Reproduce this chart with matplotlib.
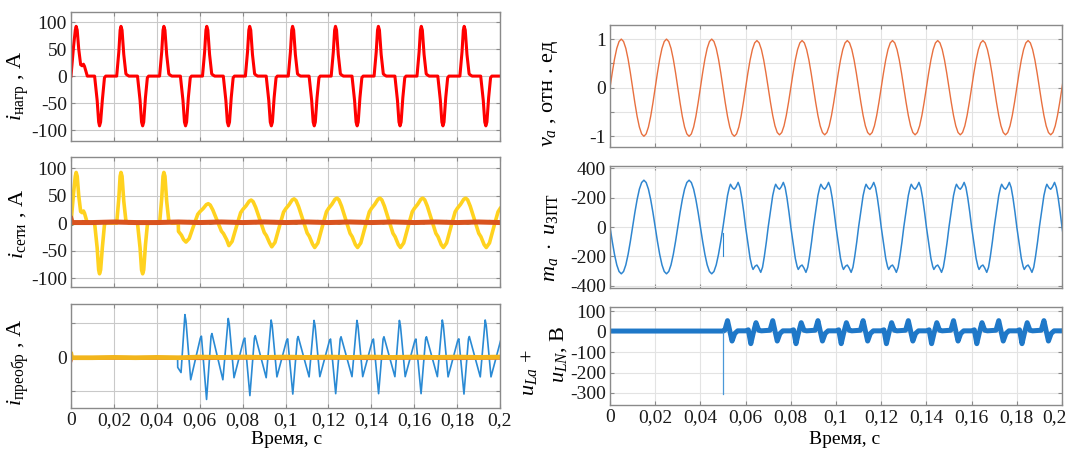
import numpy as np
import matplotlib
matplotlib.use('Agg')
import matplotlib.pyplot as plt
from matplotlib.transforms import ScaledTranslation

plt.rcParams['font.family'] = 'serif'
plt.rcParams['font.serif'] = ['Liberation Serif', 'DejaVu Serif']
plt.rcParams['mathtext.fontset'] = 'custom'
plt.rcParams['mathtext.rm'] = 'Liberation Serif'
plt.rcParams['mathtext.it'] = 'Liberation Serif:italic'
plt.rcParams['mathtext.bf'] = 'Liberation Serif:bold'

# ---------------- axis ticks ----------------
time_ticks = [0, 0.02, 0.04, 0.06, 0.08, 0.1, 0.12, 0.14, 0.16, 0.18, 0.2]
time_labels = ['0', '0,02', '0,04', '0,06', '0,08', '0,1', '0,12', '0,14', '0,16', '0,18', '0,2']

# ---------------- load current i_load (A) ----------------
load_first_ms = [0.0, 1.2, 2.0, 2.4, 2.9, 3.6, 4.5, 5.2, 5.8, 6.3, 7.6, 11.0, 12.2, 12.9, 13.3, 13.8, 14.6, 15.6, 16.2]
load_first_A = [0, 55, 85, 92, 85, 50, 21, 19, 22, 18, 0, 0, -45, -85, -92, -85, -45, -3, 0]
load_period_ms = [0.0, 1.3, 2.3, 2.9, 3.3, 3.8, 4.6, 5.6, 6.2, 7.0, 11.0, 12.2, 12.9, 13.4, 13.9, 14.7, 15.6, 16.2]
load_period_A = [0, 0, 45, 85, 92, 85, 40, 4, 2, 0, 0, -45, -85, -92, -85, -40, -3, 0]
load_starts = [0.02, 0.04, 0.06, 0.08, 0.10, 0.12, 0.14, 0.16, 0.18, 0.20]

# ---------------- grid current (yellow) after compensation starts ----------------
grid_lead_ms = [50.0, 50.1, 51.5, 52.5]
grid_lead_A = [0, -15, -22, -30]
grid_period_ms = [0.0, 1.5, 4.0, 5.5, 6.5, 8.0, 9.5, 10.4, 11.3, 12.5, 15.0, 16.5, 17.5, 19.0]
grid_period_A = [-43, -35, 0, 20, 26, 33, 42, 44, 41, 30, 0, -18, -24, -38]
grid_starts = [0.0536, 0.0736, 0.0936, 0.1136, 0.1336, 0.1536, 0.1736, 0.1936]
grid_gains = [0.8, 0.95, 1.0, 1.03, 1.03, 1.03, 1.03, 1.03]
grid_green_ms = [0, 5, 10, 15, 20, 25, 30, 35, 40, 45, 50, 55, 60, 65, 70, 75, 80, 85, 90, 95, 100,
                 105, 110, 115, 120, 125, 130, 135, 140, 145, 150, 155, 160, 165, 170, 175, 180, 185, 190, 195, 200]
grid_green_A = [-4, 4, 3, -1, 2, 4, 3, 0, 3, 4, 2, 4, 3, -1, 2, 4, 3, -1, 2, 4, 3,
                -1, 2, 4, 3, -1, 2, 4, 3, -1, 2, 4, 3, -1, 2, 4, 3, -1, 2, 4, 3]
grid_red_ms = [0, 0.5, 10, 20, 30, 40, 50, 60, 70, 80, 90, 100, 110, 120, 130, 140, 150, 160, 170, 180, 190, 200]
grid_red_A = [8, 1, 1, 2, 1, 1, 2, 1, 2, 1, 2, 1, 2, 1, 2, 1, 2, 1, 2, 1, 2, 1]

# ---------------- converter current ----------------
conv_pre_ms = [0.0, 49.7]
conv_pre_A = [-4, -4]
conv_lead_ms = [49.7, 49.75, 51.3]
conv_lead_A = [-4, -30, -45]
conv_period_ms = [0.0, 0.5, 2.7, 7.2, 7.7, 10.1, 12.2, 12.6, 17.7]
conv_period_A = [112, 95, -60, 50, 55, -112, 55, 62, -60]
conv_starts = [0.0531, 0.0733, 0.0933, 0.1133, 0.1333, 0.1531, 0.1731, 0.1931]
conv_gains = [1.1, 1.0, 0.96, 0.95, 0.95, 0.95, 0.96, 0.96]
conv_yellow_ms = [0, 0.3, 10, 20, 30, 40, 50, 60, 70, 80, 90, 100, 110, 120, 130, 140, 150, 160, 170, 180, 190, 200]
conv_yellow_A = [8, -2, -2, -1, -2, -1, -2, 0, -1, 0, -1, 0, -1, 0, -1, 0, -1, 0, -1, 0, -1, 0]
conv_red_ms = [0, 0.3, 20, 40, 60, 80, 100, 120, 140, 160, 180, 200]
conv_red_A = [-10, -3, -3, -3, -4, -3, -4, -3, -4, -3, -4, -3]

# ---------------- modulating signal v_a (p.u.) ----------------
va_cycle_ms = [0, 1, 2, 3, 4, 5, 6, 7, 8, 9, 10, 11, 12, 13, 14, 15, 16, 17, 18, 19]
va_cycle = [0, 0.31, 0.59, 0.81, 0.95, 1.0, 0.95, 0.81, 0.59, 0.31,
            0, -0.31, -0.59, -0.81, -0.95, -1.0, -0.95, -0.81, -0.59, -0.31]
va_starts = [0, 0.02, 0.04, 0.06, 0.08, 0.10, 0.12, 0.14, 0.16, 0.18, 0.20]
va_gains = [1.0, 1.0, 1.0, 0.97, 0.97, 0.97, 0.97, 0.97, 0.97, 0.97, 0.97]

# ---------------- m_a * u_dc (V) ----------------
mu_sine_ms = [0, 1, 2, 3, 4, 5, 6, 7, 8, 9, 10, 11, 12, 13, 14, 15, 16, 17, 18, 19]
mu_sine_V = [0, -99, -188, -259, -304, -320, -304, -259, -188, -99,
             0, 99, 188, 259, 304, 320, 304, 259, 188, 99]
mu_sine_starts = [0, 0.02, 0.04]
mu_flat_ms = [0.0, 1.0, 2.0, 2.8, 3.3, 4.2, 5.0, 5.8, 6.7, 7.5, 8.3, 9.2,
              10.0, 11.0, 12.0, 12.8, 13.3, 14.2, 15.0, 15.8, 16.7, 17.5, 18.3, 19.2]
mu_flat_V = [0, -110, -215, -270, -290, -268, -260, -280, -310, -275, -200, -100,
             0, 110, 215, 270, 292, 268, 258, 275, 305, 270, 200, 100]
mu_flat_starts = [0.04, 0.06, 0.08, 0.10, 0.12, 0.14, 0.16, 0.18, 0.20]
mu_spike_ms = [50.0, 50.0]
mu_spike_V = [-40, -200]

# ---------------- u_La + u_LN (V) ----------------
ul_pre_ms = [0.0, 50.2]
ul_pre_V = [4, 4]
ul_period_ms = [0.0, 1.2, 2.3, 3.4, 4.6, 5.8, 7.0, 10.8, 12.0, 13.0, 14.0, 15.2, 16.5]
ul_period_V = [5, 10, -58, -5, 45, 8, 5, 8, 55, 5, -45, -8, 5]
ul_starts = [0.04, 0.06, 0.08, 0.10, 0.12, 0.14, 0.16, 0.18, 0.20]
ul_spike_ms = [50.0, 50.0]
ul_spike_V = [0, -305]


def tile(shape_ms, shape_v, starts, gains=None):
    ts, vs = [], []
    for i, s in enumerate(starts):
        g = 1.0 if gains is None else gains[i]
        ts.append(s + np.asarray(shape_ms) / 1000.0)
        vs.append(g * np.asarray(shape_v, dtype=float))
    return np.concatenate(ts), np.concatenate(vs)


def ms(a):
    return np.asarray(a) / 1000.0


# build series
lt, lv = tile(load_period_ms, load_period_A, load_starts)
load_t = np.concatenate([ms(load_first_ms), lt])
load_v = np.concatenate([load_first_A, lv])

pre = load_t < 0.0499
gt, gv = tile(grid_period_ms, grid_period_A, grid_starts, grid_gains)
grid_t = np.concatenate([load_t[pre], ms(grid_lead_ms), gt])
grid_v = np.concatenate([load_v[pre], grid_lead_A, gv])

ct, cv = tile(conv_period_ms, conv_period_A, conv_starts, conv_gains)
conv_t = np.concatenate([ms(conv_lead_ms), ct])
conv_v = np.concatenate([conv_lead_A, cv])

va_t, va_v = tile(va_cycle_ms, va_cycle, va_starts, va_gains)

st, sv = tile(mu_sine_ms, mu_sine_V, mu_sine_starts)
keep = st < 0.05
ft, fv = tile(mu_flat_ms, mu_flat_V, mu_flat_starts)
keep2 = ft >= 0.05
mu_t = np.concatenate([st[keep], ft[keep2]])
mu_v = np.concatenate([sv[keep], fv[keep2]])

ut, uv = tile(ul_period_ms, ul_period_V, ul_starts)
keep3 = ut > 0.0502
ul_t = np.concatenate([ms(ul_pre_ms), ut[keep3]])
ul_v = np.concatenate([ul_pre_V, uv[keep3]])

# ---------------- figure ----------------
W, H = 1068, 455
fig = plt.figure(figsize=(W / 100, H / 100), dpi=100)


def add_ax(x0, y0, x1, y1):
    return fig.add_axes([x0 / W, 1 - y1 / H, (x1 - x0) / W, (y1 - y0) / H])


axL1 = add_ax(71, 12, 500, 141)
axL2 = add_ax(71, 157, 500, 287)
axL3 = add_ax(71, 304, 500, 408)
axR1 = add_ax(610, 25, 1062, 147)
axR2 = add_ax(610, 166, 1062, 288)
axR3 = add_ax(610, 307, 1062, 405)

TFS = 14


def style(ax, gridcol):
    for s in ax.spines.values():
        s.set_color('#8a8a8a')
        s.set_linewidth(1.0)
    ax.tick_params(direction='in', length=3, top=True, right=True, labelsize=TFS,
                   color='#8a8a8a', labelcolor='#1a1a1a', pad=3)
    ax.grid(True, color=gridcol, lw=0.8)
    ax.set_axisbelow(True)
    ax.set_xlim(0, 0.2)
    ax.set_xticks(time_ticks)
    ax.set_xticklabels(time_labels)


for ax in (axL1, axL2, axL3):
    style(ax, '#c9c9c9')
for ax in (axR1, axR2, axR3):
    style(ax, '#e3e3e3')
for ax in (axL1, axL2, axR1, axR2):
    ax.tick_params(labelbottom=False)

# top-left
axL1.plot(load_t, load_v, color='#ff0000', lw=2.2)
axL1.set_ylim(-120, 118.5)
axL1.set_yticks([-100, -50, 0, 50, 100])
axL1.set_yticklabels(['-100', '-50', '0', '50', '100'])

# middle-left
axL2.plot(grid_t, grid_v, color='#ffd21f', lw=2.6)
axL2.plot(ms(grid_green_ms), grid_green_A, color='#2f8f2f', lw=1.4, ls=(0, (4, 2)))
axL2.plot(ms(grid_red_ms), grid_red_A, color='#d9531e', lw=3.6)
axL2.set_ylim(-116, 120)
axL2.set_yticks([-100, -50, 0, 50, 100])
axL2.set_yticklabels(['-100', '-50', '0', '50', '100'])

# bottom-left
axL3.plot(ms(conv_pre_ms), conv_pre_A, color='#2a8ad4', lw=1.3, ls=(0, (5, 3)))
axL3.plot(conv_t, conv_v, color='#2a8ad4', lw=1.2)
axL3.plot(ms(conv_red_ms), conv_red_A, color='#e0602a', lw=2.4)
axL3.plot(ms(conv_yellow_ms), conv_yellow_A, color='#f2b51c', lw=3.4)
axL3.set_ylim(-148, 154)
axL3.set_yticks([-100, 0, 100])
axL3.set_yticklabels(['', '0', ''])

# top-right
axR1.plot(va_t, va_v, color='#e8703f', lw=1.0)
axR1.set_ylim(-1.22, 1.29)
axR1.set_yticks([-1, -0.5, 0, 0.5, 1])
axR1.set_yticklabels(['-1', '', '0', '', '1'])

# middle-right
axR2.plot(mu_t, mu_v, color='#2f86d0', lw=1.1)
axR2.plot(ms(mu_spike_ms), mu_spike_V, color='#2f86d0', lw=0.8)
axR2.set_ylim(-417, 417)
axR2.set_yticks([-400, -200, 0, 200, 400])
axR2.set_yticklabels(['-400', '-200', '0', '-200', '400'])

# bottom-right
axR3.plot(ul_t, ul_v, color='#1f78c8', lw=3.6)
axR3.plot(ms(ul_spike_ms), ul_spike_V, color='#4a98d8', lw=0.9)
axR3.set_ylim(-359, 122)
axR3.set_yticks([-300, -200, -100, 0, 100])
axR3.set_yticklabels(['-300', '-200', '-100', '0', '100'])

# keep the last right-hand tick label inside the figure
last = axR3.get_xticklabels()[-1]
last.set_transform(last.get_transform() + ScaledTranslation(-7 / 100, 0, fig.dpi_scale_trans))

# labels
LFS = 16
fig.text(18 / W, 1 - 86 / H, r'$i_{\mathrm{нагр}}$ , А', rotation=90, ha='center', va='center', fontsize=LFS)
fig.text(18 / W, 1 - 224 / H, r'$i_{\mathrm{сети}}$ , А', rotation=90, ha='center', va='center', fontsize=LFS)
fig.text(18 / W, 1 - 362 / H, r'$i_{\mathrm{преобр}}$ , А', rotation=90, ha='center', va='center', fontsize=LFS)
fig.text(550 / W, 1 - 94 / H, r'$v_a$ , отн . ед', rotation=90, ha='center', va='center', fontsize=LFS)
fig.text(551 / W, 1 - 237 / H, r'$m_a\ \cdot\ u_{\mathrm{ЗПТ}}$', rotation=90, ha='center', va='center', fontsize=LFS)
fig.text(529 / W, 1 - 372 / H, r'$u_{La}$ +', rotation=90, ha='center', va='center', fontsize=LFS)
fig.text(559 / W, 1 - 354 / H, r'$u_{LN}$, В', rotation=90, ha='center', va='center', fontsize=LFS)
fig.text(287 / W, 1 - 440 / H, 'Время, с', ha='center', va='center', fontsize=TFS)
fig.text(845 / W, 1 - 440 / H, 'Время, с', ha='center', va='center', fontsize=TFS)

fig.savefig('out.png', dpi=100)
